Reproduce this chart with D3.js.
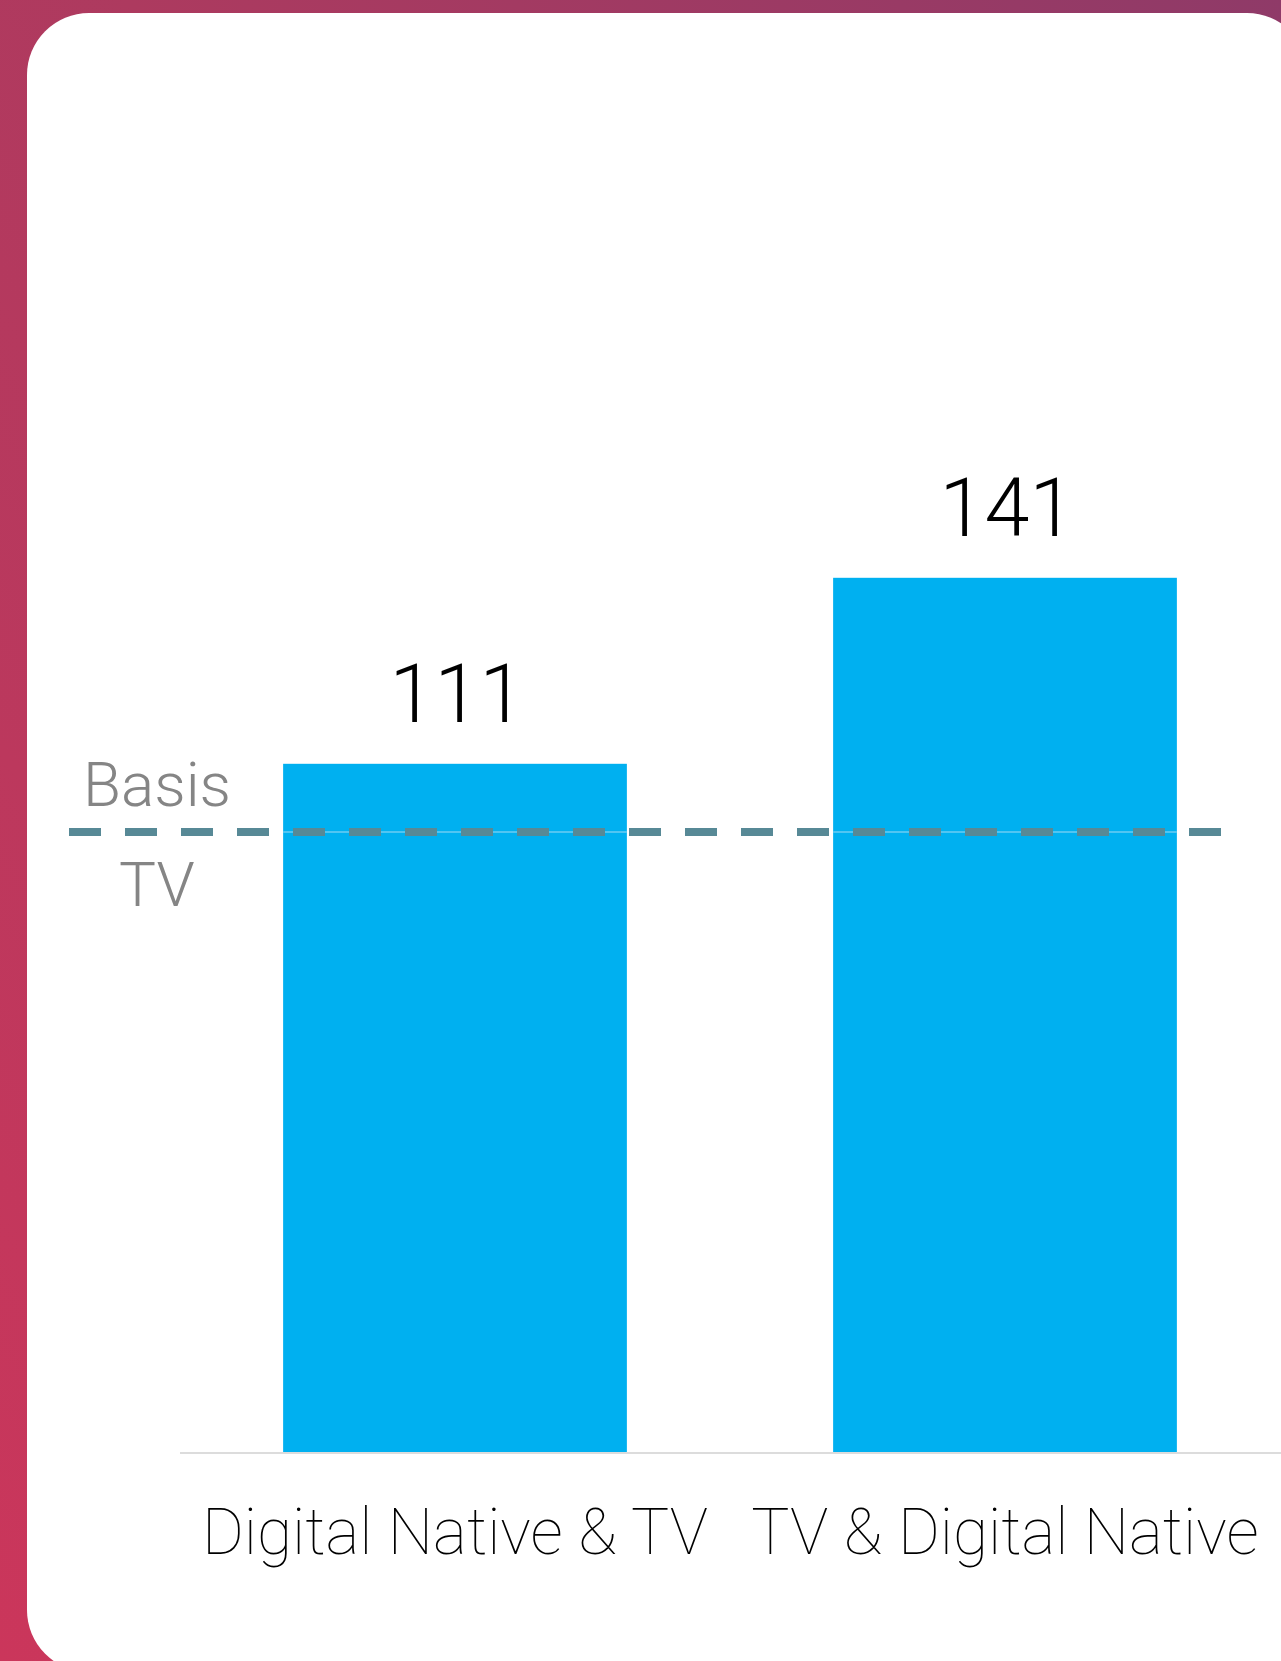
<!DOCTYPE html>
<html>
<head>
<meta charset="utf-8">
<script src="https://cdn.jsdelivr.net/npm/d3@7"></script>
<style>
  html, body { margin: 0; padding: 0; background: #fff; }
  svg { display: block; }
</style>
</head>
<body>
<div id="viz"></div>
<script>
// data
var categories = ['Digital Native & TV', 'TV & Digital Native'];
var values = [111, 141];
var basisValue = 100;
var basisLabels = ['Basis', 'TV'];

var width = 1281,
    height = 1661;

var svg = d3.select('#viz').append('svg')
  .attr('width', width)
  .attr('height', height)

// background gradient + white card
var defs = svg.append('defs')
var grad = defs.append('linearGradient')
  .attr('id', 'bg')
  .attr('x1', '0%').attr('y1', '100%')
  .attr('x2', '100%').attr('y2', '0%')
grad.append('stop').attr('offset', '0%').attr('stop-color', '#cb365b')
grad.append('stop').attr('offset', '55%').attr('stop-color', '#ad3a5f')
grad.append('stop').attr('offset', '100%').attr('stop-color', '#8f3a68')

svg.append('rect')
  .attr('width', width)
  .attr('height', height)
  .attr('fill', 'url(#bg)')

svg.append('rect')
  .attr('x', 27)
  .attr('y', 13)
  .attr('width', 1282)
  .attr('height', 1659)
  .attr('rx', 62)
  .attr('ry', 62)
  .attr('fill', '#fff')

// scales
var x = d3.scaleBand()
  .domain(categories)
  .range([180, 1280])
  .paddingInner(0.375)
  .paddingOuter(0.1875)

var y = d3.scaleLinear()
  .domain([0, 100])
  .range([1452, 832])

// bars
svg.selectAll('.bar')
  .data(values)
  .enter()
  .append('rect')
  .attr('class', 'bar')
  .attr('x', function(d, i){ return x(categories[i]) })
  .attr('y', function(d){ return y(d) })
  .attr('width', x.bandwidth())
  .attr('height', function(d){ return y(0) - y(d) })
  .attr('fill', '#00b0f0')

// thin light line through the bars at basis
svg.selectAll('.barline')
  .data(values)
  .enter()
  .append('line')
  .attr('x1', function(d, i){ return x(categories[i]) })
  .attr('x2', function(d, i){ return x(categories[i]) + x.bandwidth() })
  .attr('y1', y(basisValue))
  .attr('y2', y(basisValue))
  .attr('stroke', '#6ccdf3')
  .attr('stroke-width', 1.5)

// axis baseline
var xAxis = svg.append('g')
  .attr('transform', 'translate(0,' + (y(0) + 1) + ')')
  .call(d3.axisBottom(x).tickSize(0).tickPadding(101))

xAxis.select('.domain')
  .attr('d', 'M180,0H1281')
  .attr('stroke', '#dcdcdc')
  .attr('stroke-width', 2)

xAxis.selectAll('text')
  .attr('fill', '#000')
  .attr('font-family', 'Roboto, sans-serif')
  .attr('font-weight', 100)
  .attr('font-size', 64)
  .attr('dy', 0)

// dashed basis line
svg.append('line')
  .attr('x1', 69)
  .attr('x2', 1221)
  .attr('y1', y(basisValue))
  .attr('y2', y(basisValue))
  .attr('stroke', '#578996')
  .attr('stroke-width', 8)
  .attr('stroke-dasharray', '32 24')

// basis labels
svg.selectAll('.basis')
  .data(basisLabels)
  .enter()
  .append('text')
  .attr('class', 'basis')
  .attr('x', 157)
  .attr('y', function(d, i){ return i == 0 ? y(basisValue) - 26 : y(basisValue) + 74 })
  .attr('text-anchor', 'middle')
  .attr('font-family', 'Roboto, sans-serif')
  .attr('font-weight', 300)
  .attr('font-size', 62)
  .attr('fill', '#858585')
  .text(function(d){ return d })

// value labels
svg.selectAll('.val')
  .data(values)
  .enter()
  .append('text')
  .attr('class', 'val')
  .attr('x', function(d, i){ return x(categories[i]) + x.bandwidth()/2 + 2 })
  .attr('y', function(d){ return y(d) - 42 })
  .attr('text-anchor', 'middle')
  .attr('font-family', 'Roboto, sans-serif')
  .attr('font-weight', 300)
  .attr('font-size', 81)
  .attr('fill', '#000')
  .text(function(d){ return d })
</script>
</body>
</html>
